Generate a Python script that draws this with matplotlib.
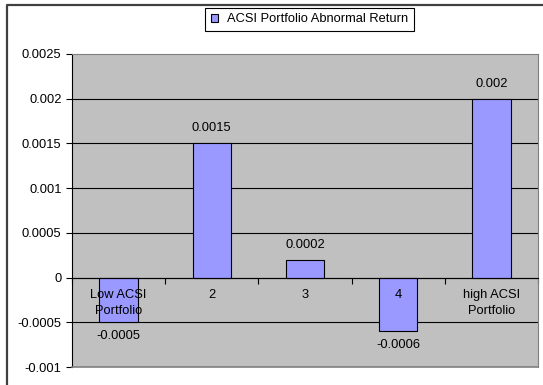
import numpy as np
import matplotlib
matplotlib.use("Agg")
import matplotlib.pyplot as plt
from matplotlib.lines import Line2D

categories = ["Low ACSI\nPortfolio", "2", "3", "4", "high ACSI\nPortfolio"]
abnormal_return = [-0.0005, 0.0015, 0.0002, -0.0006, 0.002]
value_labels = ["-0.0005", "0.0015", "0.0002", "-0.0006", "0.002"]
y_ticks = [-0.001, -0.0005, 0, 0.0005, 0.001, 0.0015, 0.002, 0.0025]
y_tick_labels = ["-0.001", "-0.0005", "0", "0.0005", "0.001", "0.0015", "0.002", "0.0025"]
series_name = "ACSI Portfolio Abnormal Return"

plt.rcParams['font.family'] = ['Liberation Sans', 'DejaVu Sans']
fs = 9.3

W, H = 543, 385
fig = plt.figure(figsize=(W / 100, H / 100), dpi=100)
ax = fig.add_axes([72 / W, 1 - 367 / H, (538 - 72) / W, (367 - 54) / H])
ax.set_facecolor('#C0C0C0')

x = np.arange(len(categories))
# bars under the axis (zorder 2.5) so the category labels print over them
bars = ax.bar(x, abnormal_return, width=0.41, color='#9999FF',
              edgecolor='black', linewidth=0.8, zorder=1.5, label=series_name)

ax.set_xlim(-0.5, len(categories) - 0.5)
ax.set_ylim(-0.001, 0.0025)
ax.set_yticks(y_ticks)
ax.set_yticklabels(y_tick_labels, fontsize=fs)
ax.tick_params(axis='y', length=4, width=0.8, color='black', pad=3.5)

# gridlines (the top and bottom ones are the plot border)
for yv in y_ticks[1:-1]:
    ax.axhline(yv, color='black', lw=0.8, zorder=1)

# category axis sits on zero
ax.spines['bottom'].set_position(('data', 0))
ax.spines['bottom'].set_linewidth(0.8)
ax.set_xticks(x)
ax.set_xticklabels(categories, fontsize=fs, linespacing=1.45)
ax.set_xticks(np.arange(len(categories) + 1) - 0.5, minor=True)
ax.tick_params(axis='x', which='major', length=0, pad=8.5)
ax.tick_params(axis='x', which='minor', length=4, width=0.8, direction='out')

ax.spines['left'].set_linewidth(0.8)
for s in ['top', 'right']:
    ax.spines[s].set_color('#808080')
    ax.spines[s].set_linewidth(0.8)
ax.add_line(Line2D([0, 1], [0, 0], transform=ax.transAxes, color='#808080',
                   lw=1.2, clip_on=False, zorder=5))

for b, v, lab in zip(bars, abnormal_return, value_labels):
    if v >= 0:
        ax.annotate(lab, (b.get_x() + b.get_width() / 2, v), xytext=(0, 6.5),
                    textcoords='offset points', ha='center', va='bottom', fontsize=fs)
    else:
        ax.annotate(lab, (b.get_x() + b.get_width() / 2, v), xytext=(0, -5.5),
                    textcoords='offset points', ha='center', va='top', fontsize=fs)

leg = fig.legend(handles=[bars], labels=[series_name], loc='center',
                 bbox_to_anchor=(309.5 / W, 1 - 19.5 / H), fontsize=fs,
                 fancybox=False, framealpha=1, edgecolor='black',
                 handlelength=0.6, handleheight=0.6, handletextpad=0.7,
                 borderpad=0.45, borderaxespad=0)
leg.get_frame().set_linewidth(0.8)

# outer chart border (only left and top are visible in the crop)
fig.add_artist(Line2D([7 / W, 7 / W, 1], [0, 1 - 5 / H, 1 - 5 / H],
                      transform=fig.transFigure, color='#404040', lw=1.6))

fig.savefig("out.png", dpi=100)
